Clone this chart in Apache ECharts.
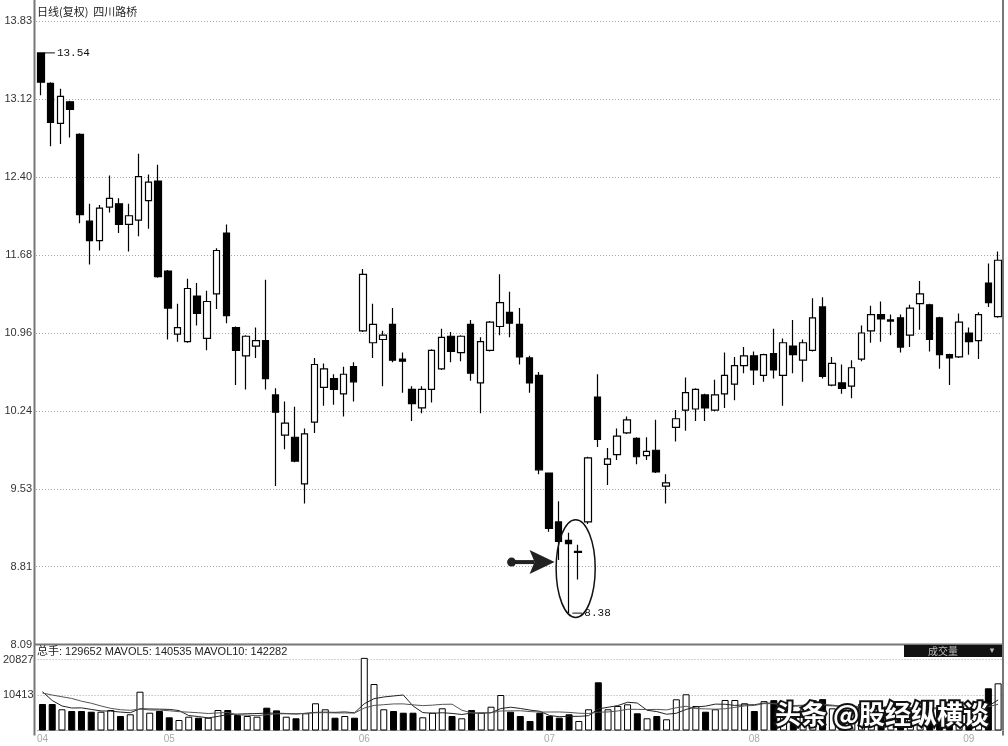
<!DOCTYPE html>
<html><head><meta charset="utf-8">
<script src="https://cdn.jsdelivr.net/npm/echarts@6/dist/echarts.min.js"></script>
<style>html,body{margin:0;padding:0;background:#fff}#c{width:1008px;height:746px}</style>
</head><body><div id="c"></div>
<script>
// ---------- data ----------
const opens  = [13.54,13.26,12.89,13.09,12.79,11.99,11.81,12.12,12.15,11.96,12.00,12.18,12.36,11.53,10.95,10.88,11.30,10.91,11.32,11.88,
                11.01,10.75,10.84,10.89,10.39,10.02,10.00,9.57,10.14,10.46,10.54,10.40,10.65,10.98,10.87,10.90,11.04,10.72,10.44,10.27,
                10.44,10.63,10.93,10.78,11.04,10.50,10.80,11.02,11.15,11.04,10.73,10.57,9.67,9.22,9.05,8.94,9.22,10.37,9.75,9.84,
                10.04,9.99,9.83,9.88,9.55,10.09,10.25,10.26,10.39,10.25,10.40,10.49,10.66,10.75,10.57,10.77,10.57,10.84,10.71,10.80,
                11.20,10.48,10.50,10.47,10.72,10.98,11.13,11.07,11.10,10.94,11.23,11.22,11.10,10.76,10.74,10.96,10.89,11.42,11.11];
const closes = [13.27,12.90,13.14,13.02,12.05,11.81,12.11,12.20,11.96,12.04,12.40,12.35,11.48,11.19,11.01,11.37,11.14,11.25,11.72,11.12,
                10.80,10.93,10.89,10.54,10.23,10.13,9.78,10.03,10.67,10.63,10.44,10.58,10.51,11.50,11.04,10.94,10.71,10.70,10.31,10.44,
                10.80,10.92,10.79,10.93,10.59,10.88,11.06,11.24,11.05,10.74,10.50,9.70,9.16,9.04,9.02,8.95,9.81,9.98,9.80,10.01,
                10.16,9.82,9.87,9.68,9.58,10.17,10.41,10.44,10.27,10.39,10.57,10.66,10.75,10.62,10.76,10.62,10.87,10.76,10.87,11.10,
                10.56,10.68,10.45,10.64,10.96,11.13,11.09,11.08,10.83,11.19,11.32,10.90,10.76,10.73,11.06,10.88,11.13,11.24,11.63];
const lows   = [13.15,12.68,12.70,12.76,11.97,11.59,11.72,12.07,11.88,11.71,11.85,11.92,11.47,10.90,10.88,10.87,11.03,10.80,11.18,11.05,
                10.48,10.44,10.73,10.44,9.55,9.89,9.77,9.39,10.04,10.29,10.30,10.19,10.33,10.97,10.73,10.47,10.69,10.41,10.15,10.22,
                10.32,10.62,10.69,10.70,10.52,10.22,10.79,10.94,10.92,10.67,10.41,9.66,9.13,8.87,8.38,8.69,9.20,9.91,9.56,9.79,
                10.03,9.75,9.79,9.67,9.39,9.96,10.06,10.15,10.15,10.24,10.27,10.34,10.59,10.48,10.51,10.54,10.29,10.59,10.51,10.79,
                10.54,10.47,10.40,10.36,10.70,10.87,10.88,10.94,10.78,10.83,10.99,10.79,10.63,10.48,10.73,10.76,10.72,11.20,11.10];
const highs  = [13.54,13.27,13.21,13.10,12.80,12.15,12.14,12.41,12.20,12.15,12.61,12.42,12.51,11.54,11.23,11.46,11.42,11.35,11.74,11.96,
                11.02,10.94,11.01,11.45,10.45,10.33,10.28,10.08,10.73,10.68,10.58,10.65,10.69,11.55,11.23,10.98,11.19,10.78,10.47,10.47,
                10.81,11.00,10.97,10.94,11.08,10.92,11.07,11.50,11.34,11.19,10.75,10.60,9.67,9.41,9.12,9.01,9.82,10.58,9.90,10.08,
                10.19,10.00,10.00,10.16,9.66,10.25,10.55,10.45,10.40,10.53,10.78,10.74,10.83,10.79,10.77,11.00,10.91,11.08,10.90,11.28,
                11.29,10.74,10.67,10.71,11.03,11.21,11.25,11.13,11.13,11.22,11.44,11.23,11.11,10.77,11.14,11.01,11.15,11.60,11.71];
const volumes = [7770,7770,6220,5720,5720,5510,5510,6010,4250,4750,11380,5220,5720,3870,3080,4050,3750,3750,6010,6010,
                 4550,4250,4050,6690,5900,4050,3580,5050,7980,6220,3750,4250,3750,21300,13640,6220,5720,5220,5220,3870,
                 5220,6510,4250,3580,6010,5220,6980,10410,5510,4250,2790,5220,4250,3750,4750,2790,6220,14140,6220,7190,
                 7680,5050,3580,4250,3290,9150,10620,7190,5510,6220,8950,8950,7980,5720,8600,8900,7000,5500,6200,8800,
                 9200,6500,4800,5600,7800,7200,5200,4600,6400,6800,7400,7000,6200,4800,6600,5200,6800,12380,13840];
const mavol5 = [11380,8800,7200,6600,6640,6190,5740,5690,5400,5210,6380,6320,6260,6190,5850,4390,4090,3700,4130,4710,
                4810,4910,4970,5110,5090,4990,4850,5050,5310,5380,5320,5450,5190,7850,9340,9830,10130,10420,7200,5250,
                5050,5210,5010,4690,5110,5110,5210,6440,6830,6470,5990,5640,4400,4050,4150,4150,4350,6330,6820,7310,
                8290,8060,5940,5550,4770,5060,6180,6900,7150,7740,7700,7360,7520,7560,8040,8030,7640,7140,7240,7280,
                7340,7240,7100,6980,6780,6380,6120,6080,6240,6040,6080,6440,6760,6440,6400,5960,5920,7160,8960];
const mavol10 = [11000,10400,9900,9400,8600,8000,7200,6500,6100,5920,6280,6030,5980,5790,5530,5380,5210,4980,5160,5280,
                 4600,4500,4340,4620,4900,4900,4880,5010,5210,5230,5150,5150,5120,6580,7360,7570,7790,7810,7530,7290,
                 7440,7670,7720,5950,5180,5080,5210,5730,5760,5790,5550,5420,5420,5440,5310,5070,4990,5370,5440,5730,
                 6220,6200,6140,6190,6040,6680,7120,6420,6350,6250,6380,6770,7210,7360,7890,7860,7500,7330,7400,7660,
                 7690,7440,7120,7110,7030,6860,6680,6590,6610,6410,6230,6280,6420,6340,6220,6020,6180,6960,7700];
const priceTicks = ['8.09','8.81','9.53','10.24','10.96','11.68','12.40','13.12','13.83'];
const volTicks = ['', '10413', '20827'];
const monthTickIndex = [0, 13, 33, 52, 73, 95];
const monthLabels = ['04', '05', '06', '07', '08', '09'];
const titleText = '日线(复权)  四川路桥';
const volHeader = '总手: 129652 MAVOL5: 140535 MAVOL10: 142282';
const volPanelName = '成交量';
const watermark = '头条 @股经纵横谈';
const highMark = { index: 0, value: 13.54, text: '13.54' };
const lowMark = { index: 54, value: 8.38, text: '8.38' };

// ---------- layout ----------
const W = 1008, H = 746;
const GL = 36, GR = 5;
const MAIN_TOP = 21.4, MAIN_BOTTOM = 644.6;
const VOL_TOP = 659.5, VOL_BOTTOM = 730.5;
const pMin = parseFloat(priceTicks[0]), pMax = parseFloat(priceTicks[priceTicks.length - 1]);
const pInt = (pMax - pMin) / (priceTicks.length - 1);
const vMax = parseFloat(volTicks[volTicks.length - 1]);

const categories = opens.map((_, i) => String(i));
const candleData = opens.map((o, i) => [o, closes[i], lows[i], highs[i]]);
const volData = volumes.map((v, i) => ({
  value: v,
  itemStyle: closes[i] >= opens[i]
    ? { color: '#fff', borderColor: '#000', borderWidth: 1 }
    : { color: '#000', borderColor: '#000', borderWidth: 1 }
}));

const dotted = { type: [1, 2], color: '#a5a5a5', width: 1 };
const chart = echarts.init(document.getElementById('c'), null, { renderer: 'canvas' });

const markStyle = (m) => ({
  coord: [m.index, m.value],
  symbol: 'rect', symbolSize: [10, 1], symbolOffset: [9, 0],
  itemStyle: { color: '#111' },
  label: { show: true, position: 'right', distance: 2, formatter: m.text,
           color: '#111', fontSize: 11, fontFamily: 'Liberation Mono' }
});

chart.setOption({
  animation: false,
  backgroundColor: '#fff',
  grid: [
    { left: GL, right: GR, top: MAIN_TOP, height: MAIN_BOTTOM - MAIN_TOP },
    { left: GL, right: GR, top: VOL_TOP, height: VOL_BOTTOM - VOL_TOP }
  ],
  xAxis: [
    { type: 'category', gridIndex: 0, data: categories, boundaryGap: true,
      axisLine: { show: false }, axisTick: { show: false }, axisLabel: { show: false }, splitLine: { show: false } },
    { type: 'category', gridIndex: 1, data: categories, boundaryGap: true,
      axisLine: { show: true, lineStyle: { color: '#aaa', width: 1 } }, axisTick: { show: false },
      axisLabel: { show: true, interval: (i) => monthTickIndex.includes(i),
        formatter: (v, i) => monthLabels[monthTickIndex.indexOf(i)] || '',
        color: '#aaa', fontSize: 10, margin: 4, fontFamily: 'Liberation Sans' },
      splitLine: { show: false } }
  ],
  yAxis: [
    { type: 'value', gridIndex: 0, min: pMin, max: pMax, interval: pInt, scale: true,
      axisLine: { show: false }, axisTick: { show: false },
      axisLabel: { color: '#333', fontSize: 11, margin: 4, fontFamily: 'Liberation Sans',
        formatter: (v) => priceTicks[Math.round((v - pMin) / pInt)] || '' },
      splitLine: { show: true, lineStyle: dotted } },
    { type: 'value', gridIndex: 1, min: 0, max: vMax, interval: vMax / 2,
      axisLine: { show: false }, axisTick: { show: false },
      axisLabel: { color: '#333', fontSize: 11, margin: 4, fontFamily: 'Liberation Sans',
        formatter: (v) => volTicks[Math.round(v / (vMax / 2))] || '' },
      splitLine: { show: true, lineStyle: dotted } }
  ],
  series: [
    { type: 'candlestick', xAxisIndex: 0, yAxisIndex: 0, data: candleData, barWidth: 7,
      itemStyle: { color: '#fff', color0: '#000', borderColor: '#000', borderColor0: '#000', borderWidth: 1.2 },
      markPoint: { silent: true, data: [markStyle(highMark), markStyle(lowMark)] } },
    { type: 'bar', xAxisIndex: 1, yAxisIndex: 1, data: volData, barWidth: 7, clip: false },
    { type: 'line', xAxisIndex: 1, yAxisIndex: 1, data: mavol5, symbol: 'none',
      lineStyle: { color: '#222', width: 1 }, z: 5 },
    { type: 'line', xAxisIndex: 1, yAxisIndex: 1, data: mavol10, symbol: 'none',
      lineStyle: { color: '#555', width: 1 }, z: 5 }
  ]
});

// ---------- annotations positioned through the chart's own scales ----------
const toPx = (i, v) => chart.convertToPixel({ xAxisIndex: 0, yAxisIndex: 0 }, [i, v]);
const band = (W - GL - GR) / categories.length;
const a = toPx(lowMark.index, 9.24), b = toPx(lowMark.index, 8.34);
const ellCx = a[0] + 0.75 * band, ellCy = (a[1] + b[1]) / 2, ellRy = (b[1] - a[1]) / 2, ellRx = 2 * band;
const tip = toPx(lowMark.index - 1, 8.85);
const tx = tip[0] - 4, ty = tip[1];

chart.setOption({
  graphic: [
    { type: 'line', shape: { x1: GL - 1.5, y1: 0, x2: GL - 1.5, y2: VOL_BOTTOM + 5 }, style: { stroke: '#777', lineWidth: 2 }, silent: true },
    { type: 'line', shape: { x1: W - GR, y1: 0, x2: W - GR, y2: VOL_BOTTOM + 5 }, style: { stroke: '#777', lineWidth: 2 }, silent: true },
    { type: 'line', shape: { x1: GL - 2, y1: MAIN_BOTTOM, x2: W - GR, y2: MAIN_BOTTOM }, style: { stroke: '#777', lineWidth: 2 }, silent: true },
    { type: 'text', style: { text: titleText, x: GL + 1, y: 12, textVerticalAlign: 'middle', fill: '#222', font: '11px "Noto Sans CJK SC"' } },
    { type: 'text', style: { text: volHeader, x: GL + 1, y: 652, textVerticalAlign: 'middle', fill: '#222', font: '11px "Liberation Sans", "Noto Sans CJK SC"' } },
    { type: 'rect', shape: { x: 904, y: 645, width: 98, height: 12 }, style: { fill: '#111' } },
    { type: 'text', style: { text: volPanelName, x: 943, y: 651, textAlign: 'center', textVerticalAlign: 'middle', fill: '#bbb', font: '10px "Noto Sans CJK SC"' } },
    { type: 'text', style: { text: '▾', x: 992, y: 651, textAlign: 'center', textVerticalAlign: 'middle', fill: '#bbb', font: '9px "DejaVu Sans"' } },
    { type: 'ellipse', shape: { cx: ellCx, cy: ellCy, rx: ellRx, ry: ellRy }, style: { fill: 'none', stroke: '#111', lineWidth: 1.5 }, z: 10 },
    { type: 'polygon', shape: { points: [[tx, ty], [tx - 25, ty - 12], [tx - 20, ty], [tx - 25, ty + 12]] }, style: { fill: '#222' }, z: 10 },
    { type: 'line', shape: { x1: tx - 42, y1: ty, x2: tx - 20, y2: ty }, style: { stroke: '#222', lineWidth: 4 }, z: 10 },
    { type: 'circle', shape: { cx: tx - 43, cy: ty, r: 4.5 }, style: { fill: '#222' }, z: 10 },
    { type: 'text', style: { text: watermark, x: 775, y: 714, textVerticalAlign: 'middle', fill: '#fff', stroke: '#111', lineWidth: 4, strokeFirst: true, font: 'bold 26px "Noto Sans CJK SC"' }, z: 20 }
  ]
});
</script>
</body></html>
